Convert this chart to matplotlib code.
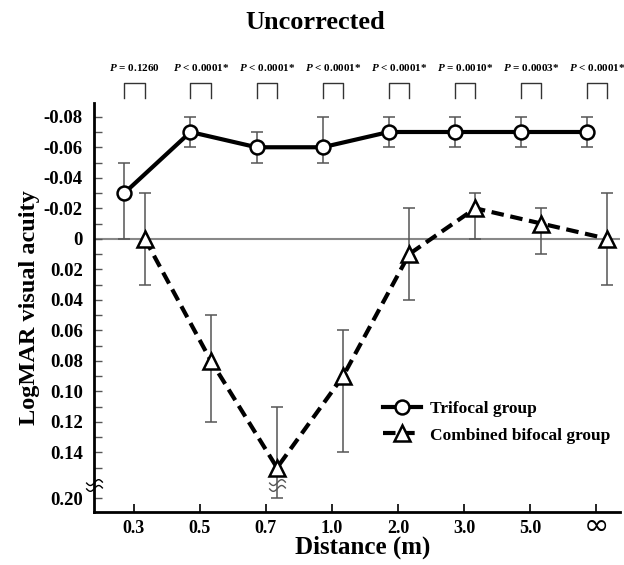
import numpy as np
import matplotlib
matplotlib.use("Agg")
import matplotlib.pyplot as plt
from matplotlib.path import Path
from matplotlib.transforms import blended_transform_factory, ScaledTranslation

plt.rcParams['font.family'] = ['Liberation Serif', 'DejaVu Serif']
plt.rcParams['font.weight'] = 'bold'
plt.rcParams['mathtext.fontset'] = 'custom'
plt.rcParams['mathtext.it'] = 'Liberation Serif:italic:bold'
plt.rcParams['mathtext.rm'] = 'Liberation Serif:bold'

# data
distances = ["0.3", "0.5", "0.7", "1.0", "2.0", "3.0", "5.0", "∞"]
p_labels = ["$P$ = 0.1260", "$P$ < 0.0001*", "$P$ < 0.0001*", "$P$ < 0.0001*",
            "$P$ < 0.0001*", "$P$ = 0.0010*", "$P$ = 0.0003*", "$P$ < 0.0001*"]

trifocal = [-0.03, -0.07, -0.06, -0.06, -0.07, -0.07, -0.07, -0.07]
trifocal_top = [-0.05, -0.08, -0.07, -0.08, -0.08, -0.08, -0.08, -0.08]
trifocal_bot = [0.00, -0.06, -0.05, -0.05, -0.06, -0.06, -0.06, -0.06]

bifocal = [0.00, 0.08, 0.15, 0.09, 0.01, -0.02, -0.01, 0.00]
bifocal_top = [-0.03, 0.05, 0.11, 0.06, -0.02, -0.03, -0.02, -0.03]
bifocal_bot = [0.03, 0.12, 0.20, 0.14, 0.04, 0.00, 0.01, 0.03]

# broken y axis: 0.20 is drawn just below 0.15
BREAK = 0.161


def to_pos(v):
    v = np.asarray(v, dtype=float)
    return np.where(v > 0.16, v - 0.03, v)


fig = plt.figure(figsize=(6.24, 5.65), dpi=100)
ax = fig.add_axes([0.1506, 0.0938, 0.8430, 0.7239])

idx = np.arange(len(distances))
x_tri = idx - 0.14
x_bi = idx + 0.17

ax.axhline(0, color="#888888", lw=1.5, zorder=1)

ty = to_pos(trifocal)
ax.errorbar(x_tri, ty, yerr=[ty - to_pos(trifocal_top), to_pos(trifocal_bot) - ty],
            fmt="none", ecolor="#555555", elinewidth=1.1, capsize=4.5, capthick=1.1, zorder=2)
by = to_pos(bifocal)
ax.errorbar(x_bi, by, yerr=[by - to_pos(bifocal_top), to_pos(bifocal_bot) - by],
            fmt="none", ecolor="#555555", elinewidth=1.1, capsize=4.5, capthick=1.1, zorder=2)

ax.plot(x_tri, ty, color="black", lw=3, marker="o", ms=10, mfc="white", mec="black",
        mew=1.8, zorder=4, label="Trifocal group")
ax.plot(x_bi, by, color="black", lw=3, ls=(0, (3, 1.6)), marker="^", ms=11, mfc="white",
        mec="black", mew=1.8, zorder=4, label="Combined bifocal group")

# break marks
t = np.linspace(-1, 1, 20)
wave = 0.35 * np.sin(np.pi * t)
verts = list(zip(t, wave + 0.35)) + list(zip(t, wave - 0.35))
codes = ([Path.MOVETO] + [Path.LINETO] * 19) * 2
brk = Path(verts, codes)
ax.plot([-0.6], [BREAK], marker=brk, ms=12, mfc="none", mec="black", mew=1.0,
        ls="none", clip_on=False, zorder=5)
big = int(np.argmax(bifocal_bot))
ax.plot([x_bi[big]], [BREAK], marker=brk, ms=12, mfc="none", mec="#555555", mew=1.0,
        ls="none", zorder=5)

ax.set_xlim(-0.6, 7.36)
ax.set_ylim(0.179, -0.089)

major = [-0.08, -0.06, -0.04, -0.02, 0, 0.02, 0.04, 0.06, 0.08, 0.10, 0.12, 0.14, 0.17]
major_lab = ["-0.08", "-0.06", "-0.04", "-0.02", "0", "0.02", "0.04", "0.06",
             "0.08", "0.10", "0.12", "0.14", "0.20"]
ax.set_yticks(major)
ax.set_yticklabels(major_lab)
ax.set_yticks(np.arange(-0.07, 0.16, 0.02), minor=True)
ax.tick_params(axis="y", which="both", direction="in", length=6, width=1, color="#555555",
               labelsize=13.5, pad=8)
ax.set_xticks(idx)
ax.set_xticklabels(distances)
ax.tick_params(axis="x", direction="in", length=6, width=1.2, labelsize=13, pad=6)
inf_lab = ax.get_xticklabels()[-1]
inf_lab.set_fontsize(22)
inf_lab.set_family("DejaVu Sans")
inf_lab.set_fontweight("normal")
inf_lab.set_transform(inf_lab.get_transform() + ScaledTranslation(0, 6 / 72, fig.dpi_scale_trans))

for s in ["top", "right"]:
    ax.spines[s].set_visible(False)
ax.spines["left"].set_linewidth(2)
ax.spines["bottom"].set_linewidth(2)

ax.set_xlabel("Distance (m)", fontsize=18, fontweight="bold")
ax.xaxis.set_label_coords(0.51, -0.058)
ax.set_ylabel("LogMAR visual acuity", fontsize=17.5, fontweight="bold", labelpad=3)

fig.text(0.505, 0.96, "Uncorrected", ha="center", va="center", fontsize=19, fontweight="bold")

trans = blended_transform_factory(ax.transData, fig.transFigure)
for i, lab in enumerate(p_labels):
    cx = (x_tri[i] + x_bi[i]) / 2
    ax.text(cx, 0.880, lab, transform=trans, ha="center", va="center", fontsize=8,
            fontweight="bold")
    ax.plot([x_tri[i], x_tri[i], x_bi[i], x_bi[i]], [0.8265, 0.853, 0.853, 0.8265],
            transform=trans, color="#333333", lw=1, clip_on=False)

leg = ax.legend(loc="upper left", bbox_to_anchor=(0.52, 0.31), frameon=False,
                fontsize=12.5, handlelength=2.2, handletextpad=0.5, labelspacing=0.6)

fig.savefig("out.png", dpi=100)
